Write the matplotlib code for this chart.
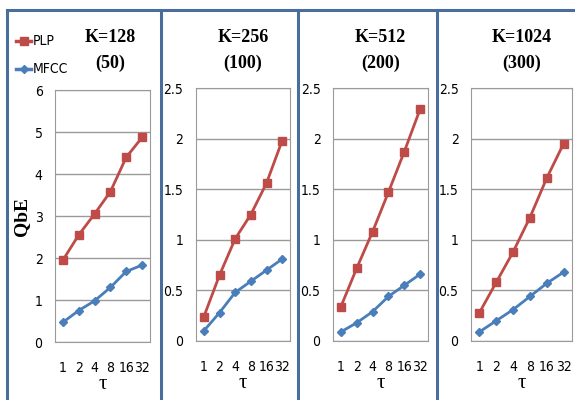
import matplotlib
matplotlib.use("Agg")
import matplotlib.pyplot as plt
from matplotlib.lines import Line2D
from matplotlib import font_manager

W, H = 575, 400
tau_labels = ["1", "2", "4", "8", "16", "32"]
titles = ["K=128\n(50)", "K=256\n(100)", "K=512\n(200)", "K=1024\n(300)"]
plp = [
    [1.95, 2.55, 3.05, 3.58, 4.40, 4.87],
    [0.24, 0.65, 1.01, 1.25, 1.56, 1.98],
    [0.34, 0.72, 1.08, 1.47, 1.87, 2.29],
    [0.28, 0.58, 0.88, 1.22, 1.61, 1.95],
]
mfcc = [
    [0.47, 0.75, 0.98, 1.30, 1.68, 1.83],
    [0.10, 0.28, 0.48, 0.59, 0.70, 0.81],
    [0.09, 0.18, 0.29, 0.44, 0.55, 0.66],
    [0.09, 0.20, 0.31, 0.44, 0.57, 0.68],
]
ymax = [6, 2.5, 2.5, 2.5]
ystep = [1, 0.5, 0.5, 0.5]

names = {f.name for f in font_manager.fontManager.ttflist}
if "Liberation Sans Narrow" in names:
    tick_font = dict(fontfamily="Liberation Sans Narrow")
else:
    tick_font = dict(fontfamily="DejaVu Sans", fontstretch="condensed")
serif = "Liberation Serif"

red = "#BE4B48"
blue = "#4A7EBB"
border = "#4A6E9C"

fig = plt.figure(figsize=(W / 100, H / 100), dpi=100)

def px_axes(x0, y0, x1, y1):
    return fig.add_axes([x0 / W, 1 - y1 / H, (x1 - x0) / W, (y1 - y0) / H])

# panel borders
for xl in [7, 161, 298, 437]:
    fig.add_artist(Line2D([xl / W, xl / W], [0, 1 - 10 / H], color=border, lw=2.2,
                          transform=fig.transFigure))
fig.add_artist(Line2D([7 / W, 1], [1 - 10 / H, 1 - 10 / H], color=border, lw=2.2,
                      transform=fig.transFigure))

boxes = [(55, 90, 150, 342), (196, 88, 290, 341), (333, 88, 428, 341), (471, 88, 572, 341)]

for i, (x0, y0, x1, y1) in enumerate(boxes):
    ax = px_axes(x0, y0, x1, y1)
    xs = list(range(len(tau_labels)))
    ax.plot(xs, plp[i], color=red, lw=2, marker="s", ms=6, zorder=3)
    ax.plot(xs, mfcc[i], color=blue, lw=2, marker="D", ms=4.5, zorder=3)
    ax.set_xlim(-0.5, 5.5)
    ax.set_ylim(0, ymax[i])
    n = int(round(ymax[i] / ystep[i]))
    ticks = [k * ystep[i] for k in range(n + 1)]
    ax.set_yticks(ticks)
    ax.set_yticklabels([("%g" % t) for t in ticks], fontsize=10, **tick_font)
    ax.set_xticks(xs)
    ax.set_xticklabels(tau_labels, fontsize=10, **tick_font)
    ax.tick_params(length=0, pad=9)
    ax.tick_params(axis="x", pad=14)
    ax.grid(axis="y", color="#9a9a9a", lw=1)
    ax.set_axisbelow(True)
    for s in ax.spines.values():
        s.set_color("#9a9a9a")
    ax.set_xlabel("τ", fontfamily=serif, fontsize=15, labelpad=0)
    cx = (x0 + x1) / 2 + (8 if i == 0 else 0)
    top, bot = titles[i].split("\n")
    fig.text(cx / W, 1 - 37 / H, top, ha="center", va="center",
             fontfamily=serif, fontweight="bold", fontsize=13)
    fig.text(cx / W, 1 - 63 / H, bot, ha="center", va="center",
             fontfamily=serif, fontweight="bold", fontsize=13)
    if i == 0:
        ax.set_ylabel("QbE", fontfamily=serif, fontweight="bold", fontsize=14, labelpad=3)

# legend
for (y, c, m, ms, lab) in [(41, red, "s", 6, "PLP"), (69, blue, "D", 4.5, "MFCC")]:
    fig.add_artist(Line2D([16 / W, 31 / W], [1 - y / H, 1 - y / H], color=c, lw=2.5,
                          transform=fig.transFigure))
    fig.add_artist(Line2D([23.5 / W], [1 - y / H], color=c, marker=m, ms=ms,
                          transform=fig.transFigure))
    fig.text(33 / W, 1 - y / H, lab, ha="left", va="center", fontsize=10, **tick_font)

fig.savefig("out.png", dpi=100)
